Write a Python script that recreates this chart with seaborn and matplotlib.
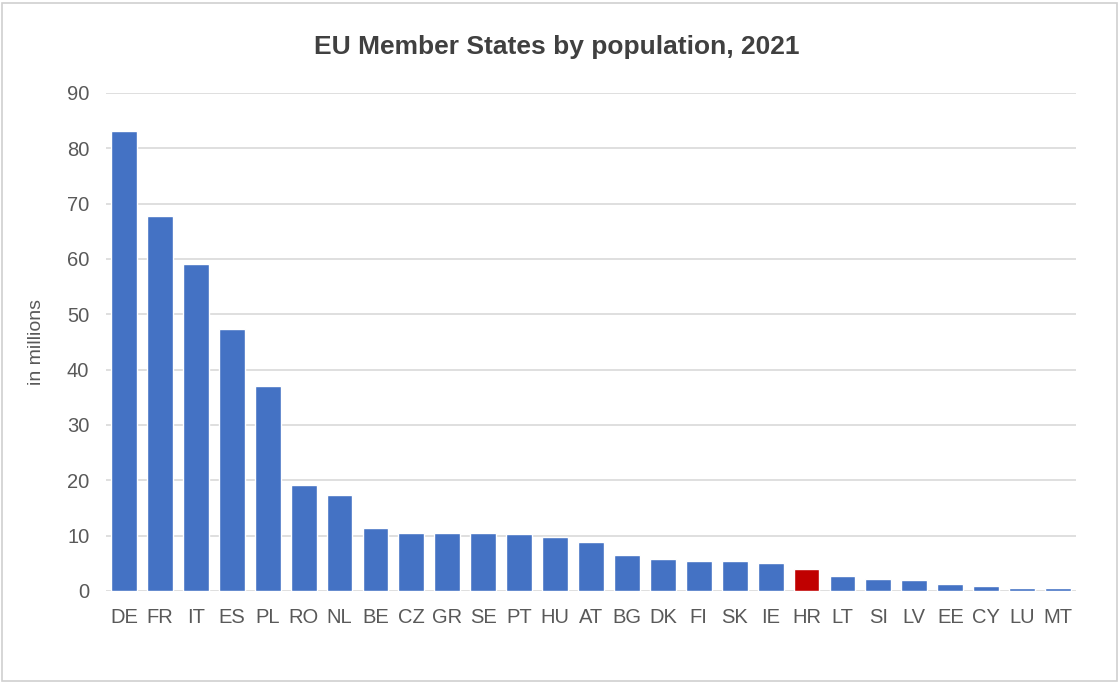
import matplotlib
matplotlib.use("Agg")
import matplotlib.pyplot as plt
import seaborn as sns
import pandas as pd
from matplotlib.patches import Rectangle

countries = ["DE", "FR", "IT", "ES", "PL", "RO", "NL", "BE", "CZ", "GR", "SE", "PT", "HU",
             "AT", "BG", "DK", "FI", "SK", "IE", "HR", "LT", "SI", "LV", "EE", "CY", "LU", "MT"]
population = [83.2, 67.7, 59.1, 47.4, 37.0, 19.1, 17.3, 11.4, 10.5, 10.5, 10.4, 10.3, 9.7,
              8.9, 6.5, 5.8, 5.5, 5.5, 5.0, 3.9, 2.7, 2.1, 1.9, 1.3, 0.9, 0.6, 0.5]
highlight = "HR"
yticks = [0, 10, 20, 30, 40, 50, 60, 70, 80, 90]

blue = "#4472C4"
red = "#C00000"
text_col = "#595959"

df = pd.DataFrame({"country": countries, "population": population})
palette = {c: (red if c == highlight else blue) for c in countries}

sns.set_theme(style="white")
plt.rcParams["font.family"] = ["Liberation Sans", "DejaVu Sans"]

fig = plt.figure(figsize=(11.2, 6.83), dpi=100)
ax = fig.add_axes([106 / 1120, 1 - 591 / 683, (1076 - 106) / 1120, (591 - 93) / 683])

sns.barplot(data=df, x="country", y="population", hue="country", palette=palette,
            order=countries, hue_order=countries, width=0.72, legend=False, ax=ax,
            saturation=1, zorder=3)

ax.set_xlim(-0.5, len(countries) - 0.5)
ax.set_ylim(0, 90)
ax.set_yticks(yticks)
ax.set_yticklabels([str(v) for v in yticks])
ax.yaxis.grid(True, color="#D9D9D9", linewidth=1.2, zorder=0)
ax.set_axisbelow(True)
for s in ax.spines.values():
    s.set_visible(False)
ax.tick_params(axis="both", length=0, colors=text_col, labelsize=14.5)
ax.tick_params(axis="x", pad=12)
ax.tick_params(axis="y", pad=12)
ax.set_xlabel("")
ax.set_ylabel("in millions", color=text_col, fontsize=14, labelpad=16)

fig.text(557 / 1120, 1 - 47 / 683, "EU Member States by population, 2021", ha="center", va="center",
         fontsize=19, fontweight="bold", color="#404040")

fig.patches.append(Rectangle((2 / 1120, 2 / 683), 1 - 5 / 1120, 1 - 5 / 683,
                             transform=fig.transFigure, fill=False,
                             edgecolor="#D0D0D0", linewidth=1.2))

fig.savefig("out.png", dpi=100, facecolor="white")
